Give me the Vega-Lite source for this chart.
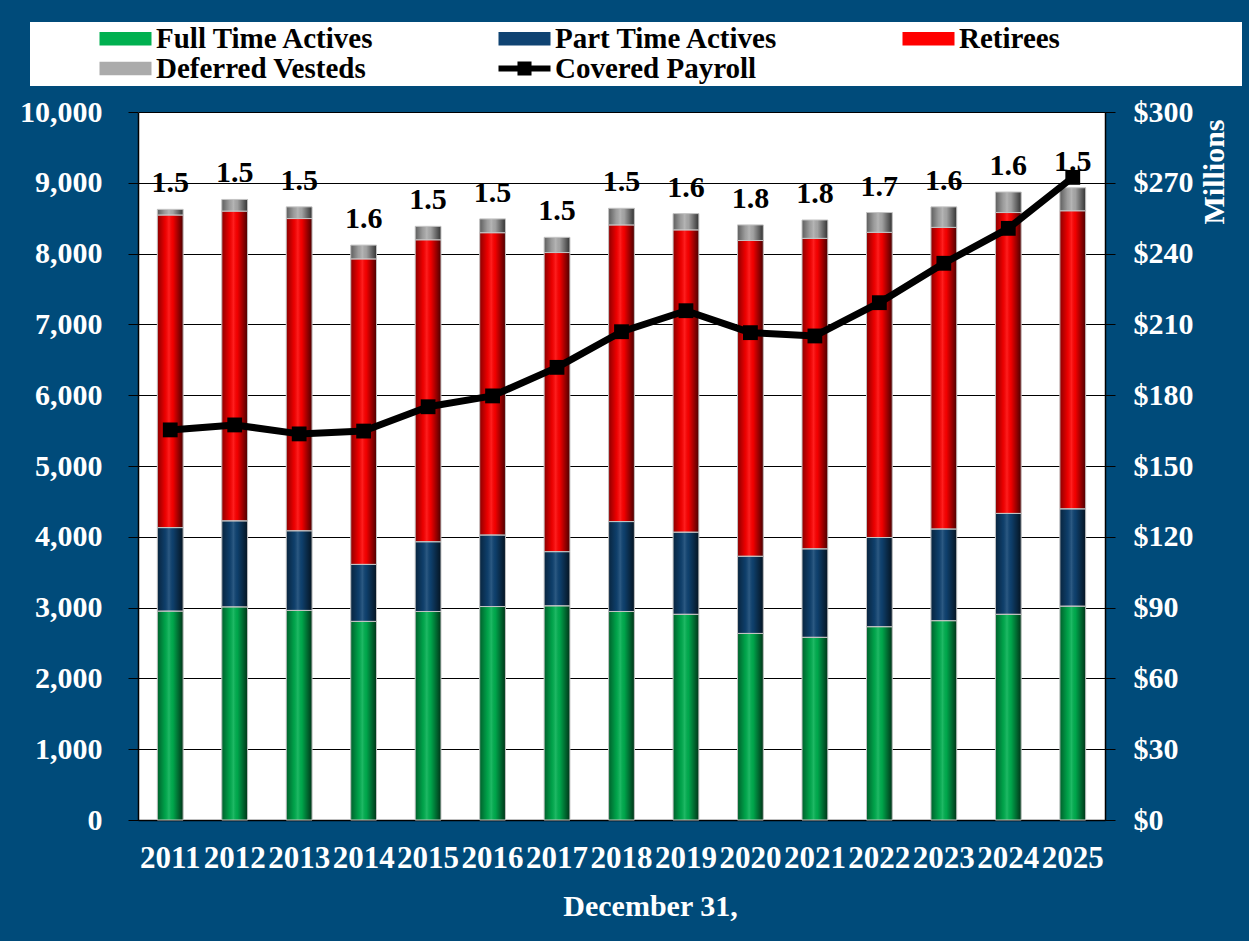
{
  "$schema": "https://vega.github.io/schema/vega-lite/v6.json",
  "width": 967,
  "height": 708,
  "autosize": {"type": "none"},
  "padding": {"left": 138, "top": 112, "right": 144, "bottom": 121},
  "background": "#004B7A",
  "config": {
    "view": {"fill": "white", "stroke": null},
    "font": "Liberation Serif"
  },
  "datasets": {
    "counts": [
      {"year": "2011", "series": "Full Time Actives", "count": 2950},
      {"year": "2011", "series": "Part Time Actives", "count": 1180},
      {"year": "2011", "series": "Retirees", "count": 4415},
      {"year": "2011", "series": "Deferred Vesteds", "count": 80},
      {"year": "2012", "series": "Full Time Actives", "count": 3010},
      {"year": "2012", "series": "Part Time Actives", "count": 1215},
      {"year": "2012", "series": "Retirees", "count": 4375},
      {"year": "2012", "series": "Deferred Vesteds", "count": 165},
      {"year": "2013", "series": "Full Time Actives", "count": 2960},
      {"year": "2013", "series": "Part Time Actives", "count": 1125},
      {"year": "2013", "series": "Retirees", "count": 4410},
      {"year": "2013", "series": "Deferred Vesteds", "count": 165},
      {"year": "2014", "series": "Full Time Actives", "count": 2805},
      {"year": "2014", "series": "Part Time Actives", "count": 805},
      {"year": "2014", "series": "Retirees", "count": 4315},
      {"year": "2014", "series": "Deferred Vesteds", "count": 195},
      {"year": "2015", "series": "Full Time Actives", "count": 2945},
      {"year": "2015", "series": "Part Time Actives", "count": 985},
      {"year": "2015", "series": "Retirees", "count": 4265},
      {"year": "2015", "series": "Deferred Vesteds", "count": 190},
      {"year": "2016", "series": "Full Time Actives", "count": 3015},
      {"year": "2016", "series": "Part Time Actives", "count": 1010},
      {"year": "2016", "series": "Retirees", "count": 4270},
      {"year": "2016", "series": "Deferred Vesteds", "count": 195},
      {"year": "2017", "series": "Full Time Actives", "count": 3025},
      {"year": "2017", "series": "Part Time Actives", "count": 765},
      {"year": "2017", "series": "Retirees", "count": 4225},
      {"year": "2017", "series": "Deferred Vesteds", "count": 215},
      {"year": "2018", "series": "Full Time Actives", "count": 2945},
      {"year": "2018", "series": "Part Time Actives", "count": 1270},
      {"year": "2018", "series": "Retirees", "count": 4190},
      {"year": "2018", "series": "Deferred Vesteds", "count": 235},
      {"year": "2019", "series": "Full Time Actives", "count": 2905},
      {"year": "2019", "series": "Part Time Actives", "count": 1160},
      {"year": "2019", "series": "Retirees", "count": 4270},
      {"year": "2019", "series": "Deferred Vesteds", "count": 230},
      {"year": "2020", "series": "Full Time Actives", "count": 2635},
      {"year": "2020", "series": "Part Time Actives", "count": 1090},
      {"year": "2020", "series": "Retirees", "count": 4460},
      {"year": "2020", "series": "Deferred Vesteds", "count": 220},
      {"year": "2021", "series": "Full Time Actives", "count": 2580},
      {"year": "2021", "series": "Part Time Actives", "count": 1250},
      {"year": "2021", "series": "Retirees", "count": 4385},
      {"year": "2021", "series": "Deferred Vesteds", "count": 260},
      {"year": "2022", "series": "Full Time Actives", "count": 2730},
      {"year": "2022", "series": "Part Time Actives", "count": 1260},
      {"year": "2022", "series": "Retirees", "count": 4310},
      {"year": "2022", "series": "Deferred Vesteds", "count": 280},
      {"year": "2023", "series": "Full Time Actives", "count": 2815},
      {"year": "2023", "series": "Part Time Actives", "count": 1295},
      {"year": "2023", "series": "Retirees", "count": 4260},
      {"year": "2023", "series": "Deferred Vesteds", "count": 290},
      {"year": "2024", "series": "Full Time Actives", "count": 2905},
      {"year": "2024", "series": "Part Time Actives", "count": 1425},
      {"year": "2024", "series": "Retirees", "count": 4250},
      {"year": "2024", "series": "Deferred Vesteds", "count": 290},
      {"year": "2025", "series": "Full Time Actives", "count": 3020},
      {"year": "2025", "series": "Part Time Actives", "count": 1375},
      {"year": "2025", "series": "Retirees", "count": 4210},
      {"year": "2025", "series": "Deferred Vesteds", "count": 325}
    ],
    "payroll": [
      {"year": "2011", "payroll": 165.3, "ratio": "1.5"},
      {"year": "2012", "payroll": 167.4, "ratio": "1.5"},
      {"year": "2013", "payroll": 163.6, "ratio": "1.5"},
      {"year": "2014", "payroll": 164.8, "ratio": "1.6"},
      {"year": "2015", "payroll": 175.1, "ratio": "1.5"},
      {"year": "2016", "payroll": 179.7, "ratio": "1.5"},
      {"year": "2017", "payroll": 191.8, "ratio": "1.5"},
      {"year": "2018", "payroll": 206.9, "ratio": "1.5"},
      {"year": "2019", "payroll": 215.8, "ratio": "1.6"},
      {"year": "2020", "payroll": 206.5, "ratio": "1.8"},
      {"year": "2021", "payroll": 205.1, "ratio": "1.8"},
      {"year": "2022", "payroll": 219.2, "ratio": "1.7"},
      {"year": "2023", "payroll": 235.9, "ratio": "1.6"},
      {"year": "2024", "payroll": 250.7, "ratio": "1.6"},
      {"year": "2025", "payroll": 272.3, "ratio": "1.5"}
    ]
  },
  "layer": [
    {
      "data": {"name": "counts"},
      "layer": [
        {
          "transform": [
            {"calculate": "indexof(['Full Time Actives','Part Time Actives','Retirees','Deferred Vesteds'], datum.series)", "as": "order"},
            {"stack": "count", "groupby": ["year"], "sort": [{"field": "order", "order": "ascending"}], "as": ["y0", "y1"]}
          ],
          "mark": {"type": "bar"},
          "encoding": {
            "x": {
              "field": "year", "type": "nominal",
              "scale": {"paddingInner": 0.6, "paddingOuter": 0.3},
              "axis": {
                "title": "December 31,", "labelAngle": 0, "labelColor": "white", "labelFontSize": 31,
                "labelFontWeight": "bold", "labelFont": "Liberation Serif", "ticks": false, "labelPadding": 23,
                "domainColor": "black", "domainWidth": 1.5, "labelOverlap": false,
                "titleColor": "white", "titleFontSize": 30, "titleFontWeight": "bold", "titleFont": "Liberation Serif",
                "titlePadding": 18, "titleX": 512
              }
            },
            "y": {
              "field": "y1", "type": "quantitative",
              "scale": {"domain": [0, 10000], "nice": false},
              "axis": {
                "title": null, "values": [0, 1000, 2000, 3000, 4000, 5000, 6000, 7000, 8000, 9000, 10000],
                "format": ",.0f", "labelColor": "white", "labelFontSize": 30, "labelFontWeight": "bold",
                "labelFont": "Liberation Serif", "tickColor": "black", "tickSize": 10, "labelPadding": 26,
                "domainColor": "black", "domainWidth": 1.5, "grid": true, "gridColor": "black", "gridWidth": 1
              }
            },
            "y2": {"field": "y0"},
            "color": {
              "field": "series", "type": "nominal",
              "scale": {
                "domain": ["Full Time Actives", "Part Time Actives", "Retirees", "Deferred Vesteds", "Covered Payroll"],
                "range": ["#00B050", "#0F4372", "#FF0000", "#ABABAB", "#000000"]
              },
              "legend": {
                "title": " ", "titleOrient": "right", "titlePadding": 180,
                "orient": "none", "legendX": -108, "legendY": -90, "direction": "horizontal",
                "columns": 3, "columnPadding": 56, "rowPadding": 0,
                "fillColor": "white", "padding": 2, "symbolOffset": 66,
                "labelFont": "Liberation Serif", "labelFontSize": 29, "labelFontWeight": "bold",
                "labelColor": "black", "labelLimit": 400, "labelOffset": 29,
                "symbolSize": 676, "symbolStrokeWidth": 0, "symbolOpacity": 1,
                "encode": {
                  "symbols": {
                    "update": {
                      "shape": {"signal": "datum.value === 'Covered Payroll' ? 'M-1,-0.23L0.46,-0.23L0.46,-0.54L1.54,-0.54L1.54,-0.23L3,-0.23L3,0.23L1.54,0.23L1.54,0.54L0.46,0.54L0.46,0.23L-1,0.23Z' : 'M-1,-0.52L3,-0.52L3,0.52L-1,0.52Z'"}
                    }
                  }
                }
              }
            }
          }
        },
        {
          "transform": [
            {"calculate": "indexof(['Full Time Actives','Part Time Actives','Retirees','Deferred Vesteds'], datum.series)", "as": "order"},
            {"stack": "count", "groupby": ["year"], "sort": [{"field": "order", "order": "ascending"}], "as": ["y0", "y1"]}
          ],
          "mark": {
            "type": "bar",
            "stroke": "#c4c4c4", "strokeWidth": 1,
            "fill": {
              "gradient": "linear", "x1": 0, "y1": 0, "x2": 1, "y2": 0,
              "stops": [
                {"offset": 0, "color": "rgba(0,0,0,0.45)"},
                {"offset": 0.3, "color": "rgba(0,0,0,0.08)"},
                {"offset": 0.45, "color": "rgba(255,255,255,0.12)"},
                {"offset": 0.6, "color": "rgba(0,0,0,0.05)"},
                {"offset": 1, "color": "rgba(0,0,0,0.7)"}
              ]
            }
          },
          "encoding": {
            "x": {"field": "year", "type": "nominal"},
            "y": {
              "field": "y1", "type": "quantitative",
              "axis": {
                "title": null, "values": [0, 1000, 2000, 3000, 4000, 5000, 6000, 7000, 8000, 9000, 10000],
                "format": ",.0f", "labelColor": "white", "labelFontSize": 30, "labelFontWeight": "bold",
                "labelFont": "Liberation Serif", "tickColor": "black", "tickSize": 10, "labelPadding": 26,
                "domainColor": "black", "domainWidth": 1.5, "grid": true, "gridColor": "black", "gridWidth": 1
              }
            },
            "y2": {"field": "y0"}
          }
        },
        {
          "transform": [
            {"aggregate": [{"op": "sum", "field": "count", "as": "y1"}], "groupby": ["year"]},
            {"lookup": "year", "from": {"data": {"name": "payroll"}, "key": "year", "fields": ["ratio"]}}
          ],
          "mark": {"type": "text", "font": "Liberation Serif", "fontSize": 30, "fontWeight": "bold", "color": "black", "baseline": "alphabetic", "dy": -17},
          "encoding": {
            "x": {"field": "year", "type": "nominal"},
            "y": {
              "field": "y1", "type": "quantitative",
              "axis": {
                "title": null, "values": [0, 1000, 2000, 3000, 4000, 5000, 6000, 7000, 8000, 9000, 10000],
                "format": ",.0f", "labelColor": "white", "labelFontSize": 30, "labelFontWeight": "bold",
                "labelFont": "Liberation Serif", "tickColor": "black", "tickSize": 10, "labelPadding": 26,
                "domainColor": "black", "domainWidth": 1.5, "grid": true, "gridColor": "black", "gridWidth": 1
              }
            },
            "text": {"field": "ratio"}
          }
        }
      ]
    },
    {
      "data": {"name": "payroll"},
      "encoding": {
        "x": {"field": "year", "type": "nominal"},
        "y": {
          "field": "payroll", "type": "quantitative",
          "scale": {"domain": [0, 300], "nice": false},
          "axis": {
            "orient": "right", "title": "Millions", "values": [0, 30, 60, 90, 120, 150, 180, 210, 240, 270, 300],
            "format": "$,d", "labelColor": "white", "labelFontSize": 30, "labelFontWeight": "bold",
            "labelFont": "Liberation Serif", "tickColor": "black", "tickSize": 10, "labelPadding": 18,
            "domainColor": "black", "domainWidth": 1.5, "grid": false,
            "titleColor": "white", "titleFontSize": 30, "titleFontWeight": "bold", "titleFont": "Liberation Serif",
            "titleAngle": -90, "titleAnchor": "end", "titleAlign": "right", "titleBaseline": "top", "titlePadding": 6, "titleY": 7
          }
        }
      },
      "layer": [
        {
          "mark": {"type": "line", "color": "black", "strokeWidth": 7, "strokeJoin": "round"}
        },
        {
          "mark": {"type": "point", "shape": "square", "filled": true, "color": "black", "size": 220, "opacity": 1}
        }
      ]
    }
  ],
  "resolve": {"scale": {"y": "independent"}}
}
